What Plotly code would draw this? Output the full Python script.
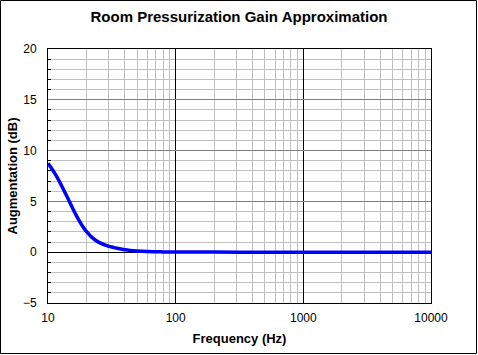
import plotly.graph_objects as go

freq_hz = [10, 11.5, 13.8, 16.6, 19.8, 23.7, 28.4, 33, 40, 50, 60, 80, 100, 200, 500, 1000, 2000, 5000, 10000]
gain_db = [8.75, 7.6, 5.7, 3.65, 2.1, 1.15, 0.68, 0.45, 0.25, 0.12, 0.06, 0.03, 0.02, 0.01, 0.0, 0.0, 0.0, 0.0, 0.0]

y_ticks = [-5, 0, 5, 10, 15, 20]
x_ticks = [10, 100, 1000, 10000]
x_minor = [m * d for d in (10, 100, 1000) for m in range(2, 10)]
y_minor = [v for v in range(-5, 21) if v % 5 != 0]

W, H = 478, 355
L, R, T, B = 48, 47, 49, 52
pw, ph = W - L - R, H - T - B

fig = go.Figure()
fig.add_trace(go.Scatter(
    x=freq_hz, y=gain_db, mode="lines",
    line=dict(color="#0000ff", width=3.5, shape="spline", smoothing=1.0),
    hoverinfo="skip", showlegend=False,
))

font = "Liberation Sans, Arial, sans-serif"
fig.update_layout(
    width=W, height=H,
    margin=dict(l=L, r=R, t=T, b=B, autoexpand=False),
    paper_bgcolor="white", plot_bgcolor="white",
    font=dict(family=font, size=12, color="black"),
    title=dict(text="<b>Room Pressurization Gain Approximation</b>",
               x=0.5, xanchor="center", y=1 - 17 / H, yanchor="middle",
               font=dict(size=15, family=font, color="black")),
    xaxis=dict(
        type="log", range=[1, 4], automargin=False,
        tickvals=x_ticks, ticktext=[str(v) for v in x_ticks],
        showgrid=True, gridcolor="black", gridwidth=1,
        minor=dict(tickvals=x_minor, showgrid=True, gridcolor="#c0c0c0", gridwidth=1, ticks=""),
        showline=True, linecolor="black", linewidth=1, mirror=True,
        ticks="", ticklabelstandoff=4,
        title=dict(text="<b>Frequency (Hz)</b>", font=dict(size=13), standoff=9),
        zeroline=False,
    ),
    yaxis=dict(
        range=[-5, 20], tickvals=y_ticks, automargin=False,
        showgrid=True, gridcolor="#808080", gridwidth=1,
        minor=dict(tickvals=y_minor, showgrid=True, gridcolor="#c0c0c0", gridwidth=1,
                   ticks="inside", ticklen=3, tickcolor="black"),
        showline=True, linecolor="black", linewidth=1, mirror=True,
        zeroline=True, zerolinecolor="black", zerolinewidth=1,
        ticks="", ticklabelstandoff=8,
        title=dict(text="<b>Augmentation (dB)</b>", font=dict(size=13), standoff=2),
    ),
    shapes=[dict(
        type="rect", xref="paper", yref="paper", layer="above",
        x0=-(L - 0.5) / pw, x1=1 + (R - 1.5) / pw,
        y0=-(B - 1.5) / ph, y1=1 + (T - 0.5) / ph,
        line=dict(color="black", width=1), fillcolor="rgba(0,0,0,0)",
    )],
)

fig.write_html("out.html", config={"displayModeBar": False},
               post_script="document.body.style.margin='0';")
